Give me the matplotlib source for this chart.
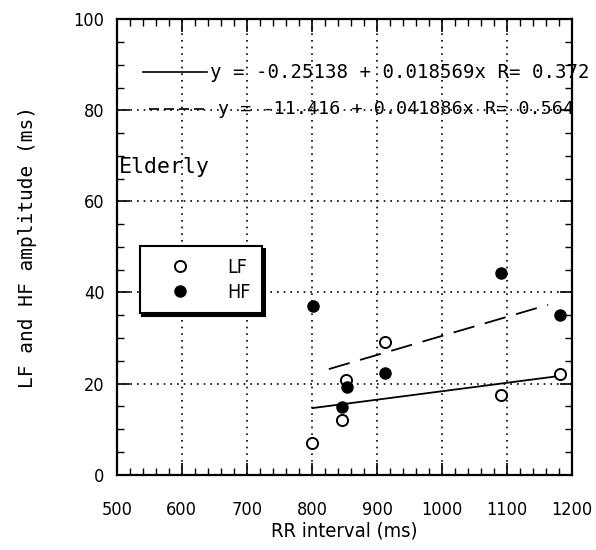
import matplotlib
matplotlib.use("Agg")
import matplotlib.pyplot as plt
from matplotlib.lines import Line2D
from matplotlib.ticker import MultipleLocator
import numpy as np

# data
lf_rr = [800, 846, 853, 913, 1091, 1182]
lf_amp = [7.0, 12.0, 20.7, 29.2, 17.5, 22.0]
hf_rr = [802, 846, 854, 913, 1090, 1182]
hf_amp = [37.0, 14.8, 19.2, 22.3, 44.2, 35.0]

# regression lines as printed on the chart
lf_fit = (-0.25138, 0.018569, 0.372)
hf_fit = (-11.416, 0.041886, 0.564)
lf_fit_span = [801, 1182]
hf_fit_span = [826, 1163]

xticks = [500, 600, 700, 800, 900, 1000, 1100, 1200]
yticks = [0, 20, 40, 60, 80, 100]

narrow = ["DejaVu Sans"]
mono = ["DejaVu Sans Mono"]

fig = plt.figure(figsize=(5.96, 5.5), dpi=100)
ax = fig.add_axes([0.196, 0.137, 0.764, 0.828])

ax.set_xlim(500, 1200)
ax.set_ylim(0, 100)
ax.set_xticks(xticks)
ax.set_yticks(yticks)
ax.xaxis.set_minor_locator(MultipleLocator(20))
ax.yaxis.set_minor_locator(MultipleLocator(5))
ax.tick_params(which="both", direction="in", top=True, right=True, color="k")
ax.tick_params(which="major", length=9, width=1.2)
ax.tick_params(which="minor", length=5, width=1.0)
ax.tick_params(axis="x", which="major", pad=19)
ax.tick_params(axis="y", which="major", pad=9)
for lab in ax.get_xticklabels() + ax.get_yticklabels():
    lab.set_family(narrow)
    lab.set_stretch("condensed")
    lab.set_fontsize(13)
for s in ax.spines.values():
    s.set_linewidth(1.6)

ax.grid(True, which="major", color="k", linestyle=(0, (1, 3)), linewidth=1.2)
ax.set_axisbelow(True)

# fit lines
xs = np.array(lf_fit_span)
ax.plot(xs, lf_fit[0] + lf_fit[1] * xs, color="k", lw=1.3)
xs = np.array(hf_fit_span)
ax.plot(xs, hf_fit[0] + hf_fit[1] * xs, color="k", lw=1.3, dashes=(12, 6))

ax.plot(lf_rr, lf_amp, "o", ms=8, mfc="white", mec="k", mew=1.4, label="LF", zorder=4)
ax.plot(hf_rr, hf_amp, "o", ms=8, mfc="k", mec="k", label="HF", zorder=4)

leg = ax.legend(loc="upper left", bbox_to_anchor=(0.05, 0.502), borderaxespad=0,
                fancybox=False, edgecolor="k", framealpha=1,
                shadow={"color": "k", "alpha": 1}, handlelength=3.0,
                handletextpad=0.9, borderpad=0.6, labelspacing=0.3,
                prop={"family": narrow, "size": 14, "stretch": "condensed"})
leg.get_frame().set_linewidth(1.5)

# equations with line samples
ax.add_line(Line2D([0.057, 0.198], [0.884, 0.884], transform=ax.transAxes,
                   color="k", lw=1.2, clip_on=False))
ax.add_line(Line2D([0.07, 0.198], [0.802, 0.802], transform=ax.transAxes,
                   color="k", lw=1.2, dashes=(6, 3), clip_on=False))
ax.text(0.205, 0.884, "y = %.5f + %.6fx R= %.3f" % lf_fit, transform=ax.transAxes,
        family=mono, fontsize=13.7, va="center", ha="left", clip_on=False)
ax.text(0.222, 0.802, "y = %.3f + %.6fx R= %.3f" % hf_fit, transform=ax.transAxes,
        family=mono, fontsize=13.2, va="center", ha="left", clip_on=False)

ax.text(0.004, 0.675, "Elderly", transform=ax.transAxes, family=mono,
        fontsize=15.5, va="center", ha="left")

ax.set_xlabel("RR interval (ms)", family=narrow, stretch="condensed", fontsize=14.5, labelpad=2)
ax.set_ylabel("LF and HF amplitude (ms)", family=mono, fontsize=14, labelpad=26)

fig.savefig("out.png", dpi=100)
